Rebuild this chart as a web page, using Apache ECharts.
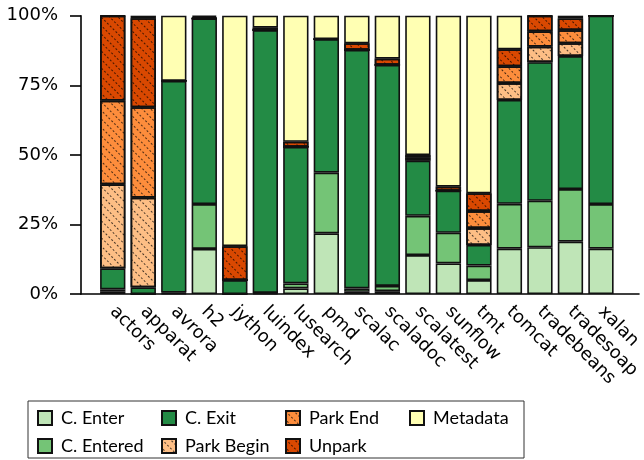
<!DOCTYPE html>
<html>
<head>
<meta charset="utf-8">
<script src="https://cdn.jsdelivr.net/npm/echarts@6/dist/echarts.min.js"></script>
<style>
  html, body { margin: 0; padding: 0; background: #fff; }
  #chart { width: 644px; height: 460px; }
</style>
</head>
<body>
<div id="chart"></div>
<script>
// Benchmarks on the x axis
const categories = ['actors', 'apparat', 'avrora', 'h2', 'jython', 'luindex', 'lusearch', 'pmd',
  'scalac', 'scaladoc', 'scalatest', 'sunflow', 'tmt', 'tomcat', 'tradebeans', 'tradesoap', 'xalan'];

// Share of each event kind per benchmark (percent)
const cEnter     = [0.8, 0,    0.2, 16.2, 0,    0.2,  2.0, 21.8, 0.8,  1.0,  14.0, 11.0, 5.0, 16.3, 16.8, 18.8, 16.3];
const cEntered   = [0.9, 0,    0.3, 16.1, 0,    0.2,  1.8, 21.8, 1.2,  1.9,  14.1, 11.0, 5.2, 16.1, 16.7, 18.9, 16.0];
const cExit      = [7.5, 2.4,  76.1, 66.7, 5.0, 94.4, 49.1, 48.0, 85.7, 79.4, 19.8, 15.1, 7.4, 37.3, 49.8, 47.8, 67.7];
const parkBegin  = [30.2, 32.2, 0,   0,    0,   0,    0,    0,    0,    0,    0.6,  0,    6.1, 6.1,  5.6,  4.6,  0];
const parkEnd    = [30.1, 32.5, 0,   0,    0,   0,    0,    0,    0,    0,    0.6,  0,    6.1, 6.0,  5.5,  4.7,  0];
const unpark     = [30.5, 32.0, 0,   0.5,  12.2, 0.9, 1.8,  0,    2.4,  2.3,  0.8,  1.5,  6.4, 6.1,  5.6,  4.2,  0];
const metadata   = [0,    0.9,  23.4, 0.5, 82.8, 4.3, 45.3, 8.4,  9.9,  15.4, 50.1, 61.4, 63.8, 12.1, 0,   1.0,  0];

// Y axis ticks
const yTicks = [0, 25, 50, 75, 100];

// Diagonal "///" hatching for the park-related segments
const hatch = {
  symbol: 'rect',
  symbolSize: 1,
  color: 'rgba(0,0,0,0.7)',
  dashArrayX: [1.5, 1.5],
  dashArrayY: [1, 5],
  rotation: Math.PI / 4
};

const seriesDefs = [
  { name: 'C. Enter',   data: cEnter,    color: '#bfe5b7' },
  { name: 'C. Entered', data: cEntered,  color: '#74c476' },
  { name: 'C. Exit',    data: cExit,     color: '#238b45' },
  { name: 'Park Begin', data: parkBegin, color: '#fdbe85', hatched: true },
  { name: 'Park End',   data: parkEnd,   color: '#fd8d3c', hatched: true },
  { name: 'Unpark',     data: unpark,    color: '#d94801', hatched: true },
  { name: 'Metadata',   data: metadata,  color: '#ffffb3' }
];

const chart = echarts.init(document.getElementById('chart'), null, { renderer: 'canvas' });

const plotTop = 15.7, plotBottom = 166;

const option = {
  animation: false,
  grid: [
    { left: 97.5, right: 21.8, top: plotTop, bottom: plotBottom },
    { left: 81, right: 5, top: plotTop, bottom: plotBottom }
  ],
  xAxis: [
    {
      type: 'category', gridIndex: 0, data: categories,
      axisLine: { show: false }, axisTick: { show: false },
      axisLabel: {
        rotate: -45, interval: 0, margin: 15,
        fontFamily: 'DejaVu Sans', fontSize: 18, color: '#000'
      }
    },
    {
      type: 'value', gridIndex: 1, min: 0, max: 1,
      axisLine: { show: true, lineStyle: { color: '#000', width: 1.6 } },
      axisTick: { show: false }, axisLabel: { show: false }, splitLine: { show: false }
    }
  ],
  yAxis: [
    { type: 'value', gridIndex: 0, min: 0, max: 100, show: false },
    {
      type: 'value', gridIndex: 1, min: yTicks[0], max: yTicks[yTicks.length - 1], interval: 25,
      axisLine: { show: true, lineStyle: { color: '#000', width: 1.6 } },
      axisTick: { show: true, length: 11, lineStyle: { color: '#000', width: 1.6 } },
      splitLine: { show: false },
      axisLabel: {
        formatter: '{value}%', margin: 23,
        fontFamily: 'DejaVu Sans', fontSize: 18, color: '#000'
      }
    }
  ],
  legend: {
    data: ['C. Enter', 'C. Exit', 'Park End', 'Metadata', 'C. Entered', 'Park Begin', 'Unpark'],
    left: 28, top: 401, width: 492,
    orient: 'horizontal',
    itemWidth: 14, itemHeight: 14, itemGap: 10,
    padding: [8, 1, 3, 9],
    borderColor: '#333', borderWidth: 1,
    icon: 'rect',
    textStyle: {
      fontFamily: 'Lato', fontSize: 18, color: '#000',
      width: 90, lineHeight: 18, padding: [0, 0, 0, 4]
    }
  },
  series: seriesDefs.map(s => ({
    name: s.name,
    type: 'bar',
    stack: 'total',
    xAxisIndex: 0, yAxisIndex: 0,
    barWidth: '83%',
    data: s.data,
    itemStyle: Object.assign(
      { color: s.color, borderColor: '#111', borderWidth: 1.6 },
      s.hatched ? { decal: hatch } : {}
    ),
    emphasis: { disabled: true }
  }))
};

chart.setOption(option);
</script>
</body>
</html>
